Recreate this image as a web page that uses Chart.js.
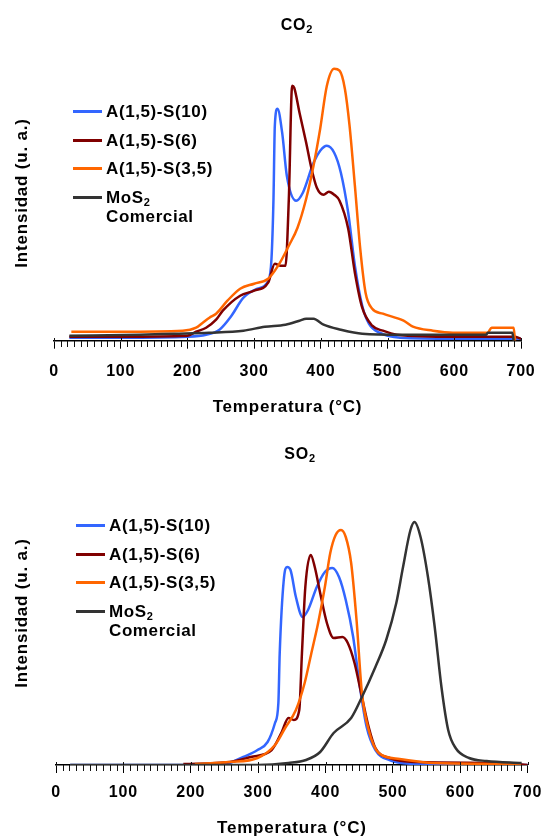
<!DOCTYPE html>
<html>
<head>
<meta charset="utf-8">
<script src="https://cdn.jsdelivr.net/npm/chart.js@4.4.0/dist/chart.umd.min.js"></script>
<style>
  body { margin: 0; background: #fff; }
  #wrap { position: relative; width: 545px; height: 837px; font-family: "Liberation Sans", Arial, sans-serif; font-weight: bold; color: #000; }
  canvas { position: absolute; left: 0; }
  .title { position: absolute; font-size: 16px; letter-spacing: 0.8px; transform: translate(-50%, -50%); white-space: nowrap; }
  .legend { position: absolute; font-size: 17px; letter-spacing: 0.6px; }
  .item { position: relative; padding-left: 33px; line-height: 19px; margin-bottom: 9.5px; white-space: nowrap; }
  .item i { position: absolute; left: 0; top: 8px; width: 29px; height: 3px; }
  sub { font-size: 11px; vertical-align: -3px; line-height: 0; }
</style>
</head>
<body>
<div id="wrap">
  <canvas id="co2" width="545" height="420" style="top:0"></canvas>
  <canvas id="so2" width="545" height="417" style="top:420px"></canvas>
  <div class="title" style="left:297px;top:25px">CO<sub>2</sub></div>
  <div class="title" style="left:300px;top:454px">SO<sub>2</sub></div>
  <div class="legend" id="leg1" style="left:73px;top:102px"></div>
  <div class="legend" id="leg2" style="left:76px;top:516px"></div>
</div>
<script>
////data//////////////////////////////////////////////////////////////

const seriesLabels = ["A(1,5)-S(10)", "A(1,5)-S(6)", "A(1,5)-S(3,5)", "MoS2 Comercial"];
const seriesColors = ["#3366ff", "#800000", "#ff6600", "#333333"];
const xTicks = [0, 100, 200, 300, 400, 500, 600, 700];

// CO2 - temperature (°C) and intensity (u. a.)
const co2BlueT = [23, 100, 200, 228, 248, 265, 284, 305, 321, 326, 329, 331, 335, 342, 349, 363, 373, 389, 399, 409, 420, 430, 441, 451, 462, 472, 488, 519, 600, 700];
const co2BlueI = [3, 3, 4, 6, 11, 24, 43, 52, 60, 82, 142, 215, 232, 208, 165, 140, 148, 178, 190, 195, 188, 168, 128, 75, 35, 17, 8, 3, 2, 2];

const co2RedT = [23, 100, 200, 213, 228, 243, 253, 279, 300, 321, 331, 339, 347, 352, 357, 360, 368, 378, 386, 394, 404, 412, 420, 428, 441, 451, 462, 477, 493, 514, 600, 690, 700];
const co2RedI = [4, 4, 5, 9, 13, 21, 30, 45, 50, 58, 77, 75, 75, 142, 255, 253, 228, 198, 172, 153, 146, 149, 146, 140, 112, 68, 33, 15, 10, 6, 4, 4, 2];

const co2OrangeT = [26, 100, 193, 213, 223, 233, 243, 260, 279, 300, 321, 336, 352, 365, 378, 389, 399, 409, 420, 428, 436, 443, 451, 459, 467, 477, 493, 524, 538, 568, 598, 650, 656, 689, 691];
const co2OrangeI = [9, 9, 10, 13, 18, 23, 27, 40, 52, 57, 62, 75, 95, 113, 142, 175, 212, 255, 272, 270, 252, 215, 155, 92, 48, 32, 27, 20, 14, 10, 8, 8, 13, 13, 0];

const co2BlackT = [23, 129, 180, 232, 284, 316, 347, 368, 378, 389, 404, 430, 462, 520, 600, 648, 650, 687, 689];
const co2BlackI = [5, 6, 7, 8, 10, 14, 16, 20, 22, 22, 16, 11, 7, 6, 6, 6, 8, 8, 0];

// SO2
const so2BlueT = [21, 250, 258, 278, 299, 314, 325, 330, 332, 338, 343, 348, 356, 366, 374, 387, 399, 410, 420, 430, 441, 451, 461, 474, 495, 536, 700];
const so2BlueI = [0, 0, 2, 8, 15, 23, 42, 62, 112, 185, 198, 195, 168, 148, 155, 178, 193, 197, 188, 165, 128, 78, 38, 15, 5, 1, 0];

const so2RedT = [189, 258, 289, 320, 335, 345, 353, 361, 365, 370, 378, 384, 392, 402, 412, 425, 433, 443, 454, 464, 474, 495, 536, 665, 700];
const so2RedI = [1, 3, 8, 15, 33, 47, 45, 55, 112, 178, 210, 198, 172, 142, 127, 128, 122, 102, 68, 38, 17, 7, 3, 2, 0];

const so2OrangeT = [206, 258, 299, 325, 340, 356, 369, 379, 389, 399, 407, 415, 423, 430, 438, 446, 454, 464, 479, 510, 560, 690];
const so2OrangeI = [1, 3, 7, 20, 37, 55, 82, 112, 142, 178, 212, 230, 235, 228, 202, 145, 72, 35, 12, 6, 2, 1];

const so2BlackT = [21, 300, 345, 371, 392, 412, 438, 454, 474, 490, 505, 515, 526, 532, 541, 552, 562, 572, 582, 593, 613, 639, 691];
const so2BlackI = [0, 0, 2, 5, 13, 32, 47, 68, 98, 125, 162, 198, 235, 243, 228, 188, 138, 78, 35, 17, 7, 4, 2];

////chart//////////////////////////////////////////////////////////////

const fontFamily = '"Liberation Sans", Arial, sans-serif';

//small ticks every 10 °C, drawn on the x scale
const minorTicks = {
  id: "minorTicks",
  beforeDraw(chart) {
    chart.ctx.letterSpacing = "0.8px";
  },
  afterDraw(chart) {
    const xs = chart.scales.x;
    const ctx = chart.ctx;
    const y0 = Math.round(xs.top);
    ctx.save();
    ctx.strokeStyle = "#111";
    ctx.lineWidth = 1;
    ctx.beginPath();
    for (let v = 0; v <= 700; v += 10) {
      const px = Math.round(xs.getPixelForValue(v)) + 0.5;
      if (v % 100 === 0) {
        ctx.moveTo(px, y0 - 3);
        ctx.lineTo(px, y0);
      } else {
        ctx.moveTo(px, y0);
        ctx.lineTo(px, y0 + 6);
      }
    }
    ctx.stroke();
    ctx.restore();
  },
};

function makeChart(id, series, geo) {
  return new Chart(document.getElementById(id), {
    type: "line",
    data: {
      datasets: series.map((s, i) => ({
        label: seriesLabels[i],
        data: s[0].map((t, k) => ({ x: t, y: s[1][k] })),
        borderColor: seriesColors[i],
        borderWidth: 2.5,
        pointRadius: 0,
        fill: false,
        cubicInterpolationMode: "monotone",
        order: 4 - i,
      })),
    },
    options: {
      responsive: false,
      animation: false,
      layout: { padding: { left: geo.padLeft, right: geo.padRight, top: geo.top, bottom: geo.padBottom } },
      plugins: { legend: { display: false }, tooltip: { enabled: false } },
      scales: {
        x: {
          type: "linear",
          min: 0,
          max: 700,
          afterBuildTicks: (s) => { s.ticks = xTicks.map((v) => ({ value: v })); },
          ticks: { color: "#000", padding: geo.tickPad, maxRotation: 0, font: { family: fontFamily, size: 16, weight: "bold" } },
          grid: { drawOnChartArea: false, drawTicks: true, tickLength: 8, tickColor: "#000", tickWidth: 1 },
          border: { display: true, color: "#000", width: 1.5 },
          title: { display: true, text: "Temperatura (°C)", color: "#000", padding: 0, font: { family: fontFamily, size: 17, weight: "bold", lineHeight: 1 } },
          afterFit: (s) => { s.height = geo.xHeight; s.paddingLeft = 0; s.paddingRight = 0; },
        },
        y: {
          min: 0,
          max: geo.yMax,
          ticks: { display: false },
          grid: { display: false },
          border: { display: false },
          title: { display: true, text: "Intensidad (u. a.)", color: "#000", padding: 0, font: { family: fontFamily, size: 17, weight: "bold", lineHeight: 1 } },
          afterFit: (s) => { s.width = geo.yWidth; },
        },
      },
    },
    plugins: [minorTicks],
  });
}

const co2Chart = makeChart("co2",
  [[co2BlueT, co2BlueI], [co2RedT, co2RedI], [co2OrangeT, co2OrangeI], [co2BlackT, co2BlackI]],
  { padLeft: 13.5, yWidth: 40.5, padRight: 24, top: 45.3, padBottom: 4.5, xHeight: 74.8, tickPad: 13.7, yMax: 295.4 });

const so2Chart = makeChart("so2",
  [[so2BlueT, so2BlueI], [so2RedT, so2RedI], [so2OrangeT, so2OrangeI], [so2BlackT, so2BlackI]],
  { padLeft: 13.5, yWidth: 42.5, padRight: 17.3, top: 41, padBottom: 0.5, xHeight: 71.5, tickPad: 10.4, yMax: 304 });

////legend from the datasets//////////////////////////////////////////////////////////////

function render_legend(chart, elId) {
  const box = document.getElementById(elId);
  chart.data.datasets.forEach((ds) => {
    const row = document.createElement("div");
    row.className = "item";
    const html = ds.label.replace("MoS2", "MoS<sub>2</sub>").replace(" Comercial", "<br>Comercial");
    row.innerHTML = `<i style="background:${ds.borderColor}"></i>${html}`;
    box.appendChild(row);
  });
}
render_legend(co2Chart, "leg1");
render_legend(so2Chart, "leg2");
</script>
</body>
</html>
